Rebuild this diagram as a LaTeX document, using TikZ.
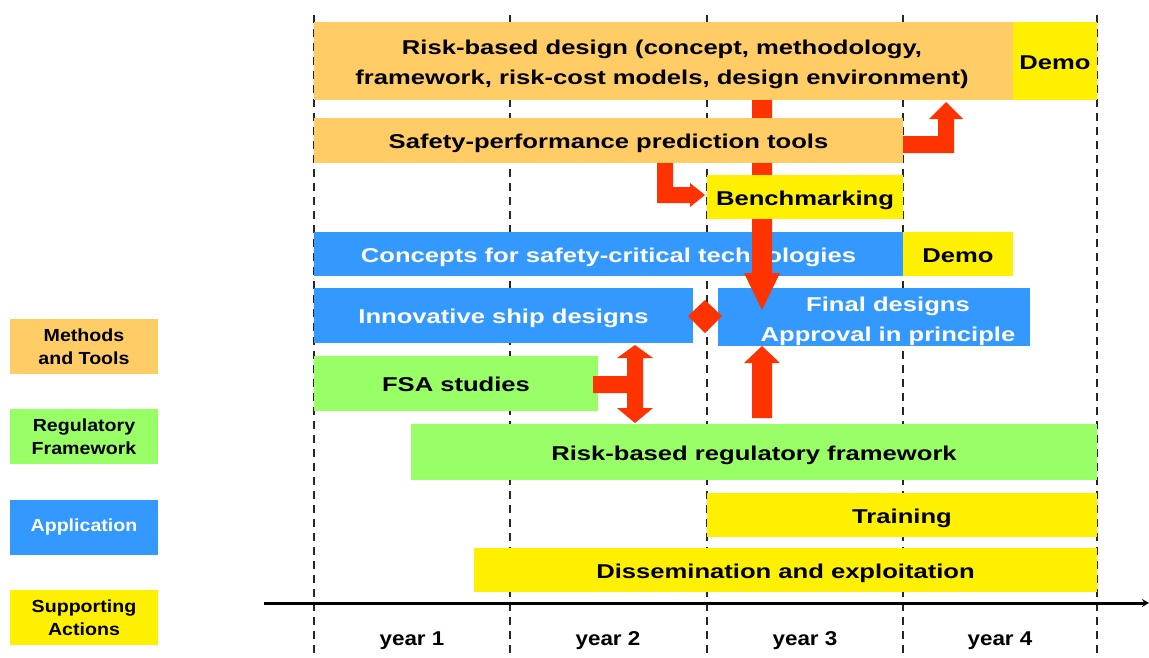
\documentclass[tikz,border=0pt]{standalone}
\usepackage{fontspec}
\setmainfont{Liberation Sans}[FakeStretch=1.28]
\newfontfamily\legfont{Liberation Sans}[FakeStretch=1.12]
\usetikzlibrary{arrows.meta}
\definecolor{orangeb}{HTML}{FFCC66}
\definecolor{greenb}{HTML}{99FF66}
\definecolor{blueb}{HTML}{3399FF}
\definecolor{yellowb}{HTML}{FFF000}
\definecolor{redarr}{HTML}{FF3300}
\begin{document}
\begin{tikzpicture}[x=1pt,y=-1pt,
  bar/.style={draw=none,inner sep=0pt,align=center,text height=20pt,text depth=4pt,font=\bfseries\fontsize{20}{30}\selectfont},
  bartext/.style={inner sep=0pt,align=center,font=\bfseries\fontsize{20}{30}\selectfont},
  legbox/.style={draw=none,inner sep=0pt,align=center,minimum width=148pt,minimum height=55pt,font=\legfont\bfseries\fontsize{17.5}{23}\selectfont},
  yearlbl/.style={inner sep=0pt,font=\legfont\bfseries\fontsize{20}{24}\selectfont},
  grid/.style={draw=black!85,line width=1.8pt,dash pattern=on 8pt off 6pt},
  blockarrow/.style={fill=redarr,draw=none}]
\useasboundingbox (0,0) rectangle (1149,657);
% year grid
\foreach \x/\n in {314/g1,510/g2,707/g3,903/g4,1097/g5}{
  \coordinate (\n t) at (\x,15);
  \coordinate (\n b) at (\x,657);
  \draw[grid] (\n t) -- (\n b);
}
% legend
\node[legbox,fill=orangeb] (lm) at (84,346.5) {Methods\\and Tools};
\node[legbox,fill=greenb] (lr) at (84,436.5) {Regulatory\\Framework};
\node[legbox,fill=blueb,text=white] (la) at (84,527) {Application};
\node[legbox,fill=yellowb] (ls) at (84,617.5) {Supporting\\Actions};
% bars
\node[bar,fill=orangeb,minimum width=699pt,minimum height=78pt] (rbd) at (663.5,61) {};
\node[bartext] (rbdtext) at (662,64) {Risk-based design (concept, methodology,\\framework, risk-cost models, design environment)};
\node[bar,fill=yellowb,minimum width=84pt,minimum height=78pt] (demoa) at (1055,61) {Demo};
\node[bar,fill=blueb,text=white,minimum width=589pt,minimum height=44pt] (cst) at (608.5,254) {Concepts for safety-critical technologies};
\node[bar,fill=yellowb,minimum width=110pt,minimum height=44pt] (demob) at (958,254) {Demo};
\node[bar,fill=blueb,text=white,minimum width=379pt,minimum height=55pt] (isd) at (503.5,315.5) {Innovative ship designs};
\node[bar,fill=blueb,minimum width=312pt,minimum height=58pt] (fd) at (874,317) {};
\node[bartext,text=white] (fdtext) at (888,321) {Final designs\\Approval in principle};
\node[bar,fill=greenb,minimum width=284pt,minimum height=55pt] (fsa) at (456,383.5) {FSA studies};
\node[bar,fill=greenb,minimum width=686pt,minimum height=56pt] (rrf) at (754,452) {Risk-based regulatory framework};
\node[bar,fill=yellowb,minimum width=390pt,minimum height=44pt] (train) at (902,515) {Training};
\node[bar,fill=yellowb,minimum width=623pt,minimum height=44pt] (diss) at (785.5,570) {Dissemination and exploitation};
% big arrow from risk-based design to final designs (passes behind the next two bars)
\fill[blockarrow] (752,100) -- (772,100) -- (772,273) -- (780,273) -- (762,310) -- (744,273) -- (752,273) -- cycle;
\node[bar,fill=orangeb,minimum width=589pt,minimum height=45pt] (spt) at (608.5,140.5) {Safety-performance prediction tools};
\node[bar,fill=yellowb,minimum width=196pt,minimum height=44pt] (bench) at (805,197) {Benchmarking};
% prediction tools -> demo area of risk-based design
\fill[blockarrow] (903,136) -- (938,136) -- (938,119) -- (929,119) -- (946,102) -- (963,119) -- (954,119) -- (954,153) -- (903,153) -- cycle;
% prediction tools -> benchmarking
\fill[blockarrow] (657,163) -- (673,163) -- (673,187) -- (690,187) -- (690,183) -- (705,195) -- (690,207) -- (690,203) -- (657,203) -- cycle;
% diamond between innovative and final designs
\fill[blockarrow] (688,316) -- (705,300) -- (722,316) -- (705,333) -- cycle;
% FSA -> double arrow between ship designs and regulatory framework
\fill[blockarrow] (593,376) -- (627,376) -- (627,358) -- (617,358) -- (635,345) -- (653,358) -- (643,358) -- (643,408) -- (653,408) -- (635,423) -- (617,408) -- (627,408) -- (627,393) -- (593,393) -- cycle;
% regulatory framework -> final designs
\fill[blockarrow] (752,418) -- (772,418) -- (772,363) -- (780,363) -- (762,346) -- (744,363) -- (752,363) -- cycle;
% time axis
\coordinate (axs) at (264,603);
\coordinate (axe) at (1149,603);
\draw[line width=3pt,-{Stealth[length=7pt,width=8pt]}] (axs) -- (axe);
\node[yearlbl] (y1) at (412,641) {year 1};
\node[yearlbl] (y2) at (608,641) {year 2};
\node[yearlbl] (y3) at (805,641) {year 3};
\node[yearlbl] (y4) at (1000,641) {year 4};
\end{tikzpicture}
\end{document}
